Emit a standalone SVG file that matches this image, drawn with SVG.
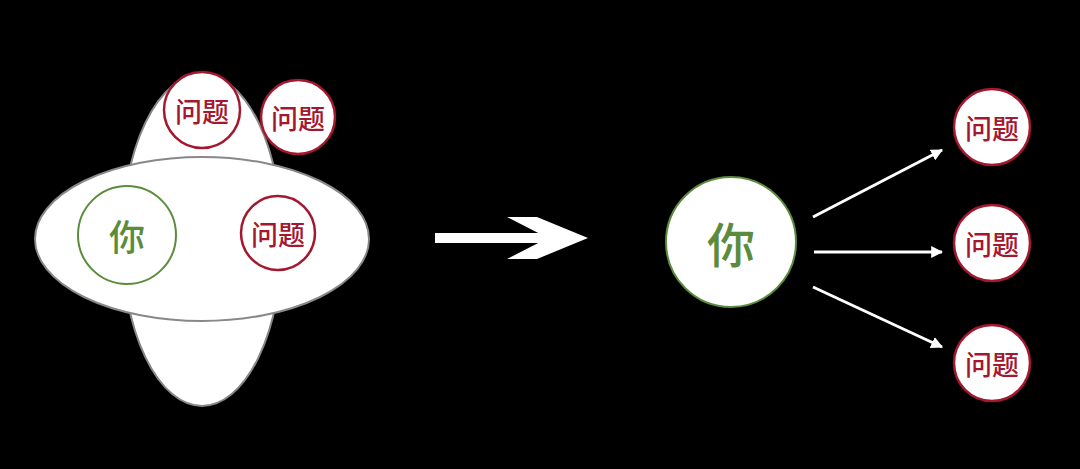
<svg xmlns="http://www.w3.org/2000/svg" width="1080" height="469" viewBox="0 0 1080 469">
<defs>
<style>
.bg{fill:#000}
.blob{fill:#fff;stroke:#888;stroke-width:2}
.you{fill:#fff;stroke:#5b8c3e;stroke-width:2}
.q{fill:#fff;stroke:#a3182f;stroke-width:2.5}
.tq{font-family:"Noto Sans CJK SC","Noto Sans",sans-serif;font-size:27px;font-weight:500;fill:#a3182f;text-anchor:middle;dominant-baseline:central}
.ty{font-family:"Noto Sans CJK SC","Noto Sans",sans-serif;font-weight:500;fill:#5b8c3e;text-anchor:middle;dominant-baseline:central}
.conn{stroke:#fff;stroke-width:3;fill:none}
</style>
<marker id="ah" viewBox="0 0 10 10" refX="9" refY="5" markerWidth="4" markerHeight="4" orient="auto" markerUnits="strokeWidth">
<path d="M0,0 L10,5 L0,10 Z" fill="#fff"/>
</marker>
</defs>
<rect class="bg" x="0" y="0" width="1080" height="469"/>
<g id="left-cluster">
<ellipse class="blob" cx="202" cy="240" rx="80" ry="166"/>
<ellipse class="blob" cx="202" cy="239" rx="167" ry="82"/>
</g>
<g id="you-left">
<circle class="you" cx="127" cy="235" r="49"/>
<text class="ty" x="127" y="235" font-size="36">你</text>
</g>
<g id="q-left-inner">
<circle class="q" cx="278" cy="233" r="37"/>
<text class="tq" x="278" y="233">问题</text>
</g>
<g id="q-left-top">
<circle class="q" cx="202" cy="110" r="38"/>
<text class="tq" x="202" y="110">问题</text>
</g>
<g id="q-left-topright">
<circle class="q" cx="298" cy="117" r="37"/>
<text class="tq" x="298" y="117">问题</text>
</g>
<g id="big-arrow">
<rect x="435" y="233" width="114" height="10" fill="#fff"/>
<polygon points="507,217 537,217 588,238 537,259 507,259 548,238" fill="#fff"/>
</g>
<g id="you-right">
<circle class="you" cx="731" cy="242" r="65"/>
<text class="ty" x="731" y="242" font-size="48">你</text>
</g>
<g id="q-right-1">
<circle class="q" cx="992" cy="127" r="38"/>
<text class="tq" x="992" y="127">问题</text>
</g>
<g id="q-right-2">
<circle class="q" cx="992" cy="243" r="38"/>
<text class="tq" x="992" y="243">问题</text>
</g>
<g id="q-right-3">
<circle class="q" cx="992" cy="363" r="38"/>
<text class="tq" x="992" y="363">问题</text>
</g>
<g id="connectors">
<line class="conn" x1="813" y1="217" x2="942" y2="150" marker-end="url(#ah)"/>
<line class="conn" x1="814" y1="252" x2="942" y2="252" marker-end="url(#ah)"/>
<line class="conn" x1="813" y1="287" x2="942" y2="347" marker-end="url(#ah)"/>
</g>
</svg>
